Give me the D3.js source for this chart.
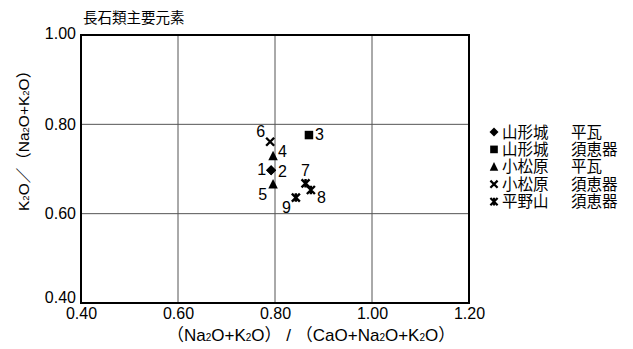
<!DOCTYPE html>
<html>
<head>
<meta charset="utf-8">
<script src="https://cdn.jsdelivr.net/npm/d3@7"></script>
<style>
  body { margin: 0; background: #fff; }
  text { font-family: "Liberation Sans", Arial, sans-serif; fill: #000; }
  .jp { font-family: "Noto Sans CJK JP", sans-serif; }
</style>
</head>
<body>
<div id="chart"></div>
<script>
// data
const seriesSite = ["山形城", "山形城", "小松原", "小松原", "平野山"];
const seriesKind = ["平瓦", "須恵器", "平瓦", "須恵器", "須恵器"];
const pointIds = [1, 2, 3, 4, 5, 6, 7, 8, 9];
const pointSeries = [0, 0, 1, 2, 2, 3, 4, 4, 4];
const xValues = [0.792, 0.792, 0.870, 0.796, 0.796, 0.790, 0.863, 0.874, 0.843];
const yValues = [0.697, 0.697, 0.776, 0.729, 0.666, 0.761, 0.668, 0.653, 0.636];
const tickValues = [0.40, 0.60, 0.80, 1.00, 1.20];
const yTickValues = [0.40, 0.60, 0.80, 1.00];

function drawScatter(selector) {
    const width = 633, height = 349;
    const margin = { top: 35, right: 164, bottom: 46, left: 81 };
    const w = width - margin.left - margin.right;
    const h = height - margin.top - margin.bottom;

    const svg = d3.select(selector).append('svg')
        .attr('width', width)
        .attr('height', height);

    const g = svg.append('g')
        .attr('transform', `translate(${margin.left},${margin.top})`);

    const x = d3.scaleLinear().domain([0.4, 1.2]).range([0, w]);
    const y = d3.scaleLinear().domain([0.4, 1.0]).range([h, 0]);

    // grid
    g.selectAll('.vgrid')
        .data(tickValues.slice(1, -1))
        .enter().append('line')
        .attr('x1', d => x(d)).attr('x2', d => x(d))
        .attr('y1', 0).attr('y2', h)
        .attr('stroke', '#555').attr('stroke-width', 1);
    g.selectAll('.hgrid')
        .data(yTickValues.slice(1, -1))
        .enter().append('line')
        .attr('x1', 0).attr('x2', w)
        .attr('y1', d => y(d)).attr('y2', d => y(d))
        .attr('stroke', '#555').attr('stroke-width', 1);

    g.append('rect')
        .attr('width', w).attr('height', h)
        .attr('fill', 'none').attr('stroke', '#000').attr('stroke-width', 2);

    // axes (labels only, box drawn above)
    const xAxis = g.append('g')
        .attr('transform', `translate(0,${h})`)
        .call(d3.axisBottom(x).tickValues(tickValues).tickFormat(d3.format('.2f')).tickSize(0).tickPadding(5));
    xAxis.select('.domain').remove();
    xAxis.selectAll('text').style('font-size', '16px').style('fill', '#000')
        .style('font-family', '"Liberation Sans", Arial, sans-serif');

    const yAxis = g.append('g')
        .call(d3.axisLeft(y).tickValues(yTickValues).tickFormat(d3.format('.2f')).tickSize(0).tickPadding(5));
    yAxis.select('.domain').remove();
    yAxis.selectAll('text').style('font-size', '16px').style('fill', '#000')
        .style('font-family', '"Liberation Sans", Arial, sans-serif')
        .attr('dy', d => d === 0.4 ? '-0.05em' : (d === 1.0 ? '0.2em' : '0.32em'));

    // markers
    const sym = (i, s) => {
        const r = s / 2;
        if (i === 0) return `M0,${-r}L${r},0L0,${r}L${-r},0Z`;
        if (i === 1) return `M${-r * 0.85},${-r * 0.85}h${r * 1.7}v${r * 1.7}h${-r * 1.7}Z`;
        if (i === 2) return `M0,${-r * 1.05}L${r * 0.95},${r * 0.85}L${-r * 0.95},${r * 0.85}Z`;
        if (i === 3) return `M${-r * 0.8},${-r * 0.8}L${r * 0.8},${r * 0.8}M${r * 0.8},${-r * 0.8}L${-r * 0.8},${r * 0.8}`;
        return `M${-r * 0.8},${-r * 0.8}L${r * 0.8},${r * 0.8}M${r * 0.8},${-r * 0.8}L${-r * 0.8},${r * 0.8}M0,${-r * 0.85}V${r * 0.85}`;
    };
    const filled = i => i <= 2;

    const pts = pointIds.map((id, k) => ({ id, s: pointSeries[k], x: xValues[k], y: yValues[k] }));
    g.selectAll('.pt')
        .data(pts)
        .enter().append('path')
        .attr('transform', d => `translate(${x(d.x)},${y(d.y)})`)
        .attr('d', d => sym(d.s, 10))
        .attr('fill', d => filled(d.s) ? '#000' : 'none')
        .attr('stroke', '#000')
        .attr('stroke-width', d => filled(d.s) ? 0 : 2.4);

    // point number labels
    const lab = {
        1: [-5, 5, 'end'], 2: [7, 7, 'start'], 3: [6, 5, 'start'],
        4: [5, 1, 'start'], 5: [-6, 16, 'end'], 6: [-5, -5, 'end'],
        7: [0, -7, 'middle'], 8: [6, 13, 'start'], 9: [-5, 15, 'end']
    };
    g.selectAll('.plab')
        .data(pts)
        .enter().append('text')
        .attr('x', d => x(d.x) + lab[d.id][0])
        .attr('y', d => y(d.y) + lab[d.id][1])
        .attr('text-anchor', d => lab[d.id][2])
        .style('font-size', '16px')
        .text(d => d.id);

    // title
    svg.append('text')
        .attr('class', 'jp')
        .attr('x', 83).attr('y', 23)
        .style('font-size', '14.5px')
        .text('長石類主要元素');

    // x label
    const xl = svg.append('text')
        .attr('x', 167).attr('y', 341)
        .style('font-size', '17px');
    xl.append('tspan').attr('class', 'jp').text('（');
    xl.append('tspan').text('Na');
    xl.append('tspan').style('font-size', '10px').text('2');
    xl.append('tspan').text('O+K');
    xl.append('tspan').style('font-size', '10px').text('2');
    xl.append('tspan').text('O');
    xl.append('tspan').attr('class', 'jp').text('）');
    xl.append('tspan').text(' / ');
    xl.append('tspan').attr('class', 'jp').text('（');
    xl.append('tspan').text('CaO+Na');
    xl.append('tspan').style('font-size', '10px').text('2');
    xl.append('tspan').text('O+K');
    xl.append('tspan').style('font-size', '10px').text('2');
    xl.append('tspan').text('O');
    xl.append('tspan').attr('class', 'jp').text('）');

    // y label
    const yl = svg.append('text')
        .attr('transform', 'translate(29,211) rotate(-90)')
        .style('font-size', '15.5px');
    yl.append('tspan').text('K');
    yl.append('tspan').style('font-size', '9.5px').text('2');
    yl.append('tspan').text('O');
    yl.append('tspan').attr('class', 'jp').text('／（');
    yl.append('tspan').text('Na');
    yl.append('tspan').style('font-size', '9.5px').text('2');
    yl.append('tspan').text('O+K');
    yl.append('tspan').style('font-size', '9.5px').text('2');
    yl.append('tspan').text('O');
    yl.append('tspan').attr('class', 'jp').text('）');

    // legend
    const leg = svg.append('g').attr('transform', 'translate(494,132)');
    const rows = leg.selectAll('g')
        .data(seriesSite.map((s, i) => ({ i, site: s, kind: seriesKind[i] })))
        .enter().append('g')
        .attr('transform', d => `translate(0,${d.i * 17.4})`);
    rows.append('path')
        .attr('d', d => sym(d.i, 9))
        .attr('fill', d => filled(d.i) ? '#000' : 'none')
        .attr('stroke', '#000')
        .attr('stroke-width', d => filled(d.i) ? 0 : 2.2);
    rows.append('text').attr('class', 'jp')
        .attr('x', 8).attr('y', 5.5)
        .style('font-size', '15.5px')
        .text(d => d.site);
    rows.append('text').attr('class', 'jp')
        .attr('x', 77).attr('y', 5.5)
        .style('font-size', '15.5px')
        .text(d => d.kind);
}

drawScatter('#chart');
</script>
</body>
</html>
